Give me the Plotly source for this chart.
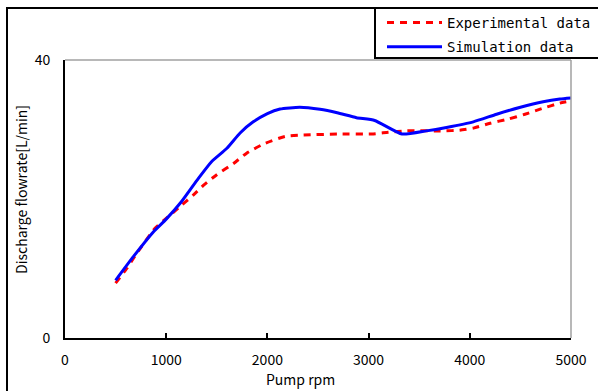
import plotly.graph_objects as go

# data
sim_rpm = [500, 675, 875, 1000, 1150, 1320, 1450, 1600, 1730, 1860, 2000, 2125, 2320, 2520, 2690,
           2880, 3060, 3330, 3570, 3770, 4035, 4265, 4500, 4725, 4890, 5000]
sim_flow = [8.3, 11.7, 15.3, 17.1, 19.6, 23.0, 25.4, 27.3, 29.5, 31.1, 32.3, 32.95, 33.2, 32.9, 32.4,
            31.7, 31.3, 29.35, 29.8, 30.3, 31.1, 32.2, 33.2, 34.0, 34.4, 34.55]

exp_rpm = [500, 610, 710, 890, 1000, 1135, 1270, 1370, 1500, 1665, 1795, 1975, 2175, 2355, 2700,
           3030, 3195, 3375, 3740, 3900, 4035, 4200, 4380, 4545, 4710, 4890, 5000]
exp_flow = [7.9, 10.0, 12.2, 15.8, 17.2, 18.9, 20.6, 22.0, 23.5, 25.1, 26.6, 28.0, 29.0, 29.2, 29.35,
            29.35, 29.6, 29.8, 29.8, 29.9, 30.2, 30.9, 31.5, 32.2, 33.0, 33.8, 34.1]

x_ticks = [0, 1000, 2000, 3000, 4000, 5000]
y_ticks = [0, 40]

FONT = "Noto Sans CJK JP"
LEG_FONT = "DejaVu Sans Mono"
W, H = 598, 391
L, R, T, B = 65, 27, 60, 53
PW, PH = W - L - R, H - T - B


def px(x):
    return (x - L) / PW


def py(y):
    return (H - B - y) / PH


fig = go.Figure()
fig.add_trace(go.Scatter(x=exp_rpm, y=exp_flow, mode="lines", name="Experimental data",
                         legendgroup="exp",
                         line=dict(color="#ff0000", width=3, dash="7px,6px",
                                   shape="spline", smoothing=0.5)))
fig.add_trace(go.Scatter(x=sim_rpm, y=sim_flow, mode="lines", name="Simulation data",
                         legendgroup="sim",
                         line=dict(color="#0000ff", width=3, shape="spline", smoothing=0.5)))

shapes = [
    # outer chart frame
    dict(type="rect", xref="paper", yref="paper", x0=px(7), x1=px(610), y0=py(400), y1=py(8),
         line=dict(color="black", width=2), layer="below"),
    # legend box
    dict(type="rect", xref="paper", yref="paper", x0=px(375), x1=px(610), y0=py(58), y1=py(8),
         line=dict(color="black", width=2), layer="below"),
    # gray top and right border of plot area
    dict(type="line", xref="paper", yref="paper", x0=0, x1=1, y0=1, y1=1,
         line=dict(color="#a0a0a0", width=1.5)),
    dict(type="line", xref="paper", yref="paper", x0=1, x1=1, y0=0, y1=1,
         line=dict(color="#a0a0a0", width=1.5)),
]

annotations = [
    dict(text="Pump rpm", xref="paper", yref="paper", x=px(300), y=py(379), showarrow=False,
         font=dict(family=FONT, size=14, color="black"), xanchor="center", yanchor="middle"),
    dict(text="Discharge flowrate[L/min]", xref="paper", yref="paper", x=px(21), y=py(190),
         showarrow=False, textangle=-90,
         font=dict(family=FONT, size=14, color="black"), xanchor="center", yanchor="middle"),
]

fig.update_layout(
    width=W, height=H,
    margin=dict(l=L, r=R, t=T, b=B, autoexpand=False),
    paper_bgcolor="white", plot_bgcolor="white",
    font=dict(family=FONT, size=14, color="black"),
    showlegend=True,
    legend=dict(x=px(382), y=py(7), xanchor="left", yanchor="top",
                bgcolor="rgba(0,0,0,0)", borderwidth=0, itemwidth=55,
                traceorder="grouped", tracegroupgap=3,
                font=dict(family=LEG_FONT, size=14, color="black")),
    shapes=shapes,
    annotations=annotations,
    xaxis=dict(range=[0, 5000], tickvals=x_ticks, ticktext=[str(v) for v in x_ticks],
               showgrid=False, zeroline=False, showline=True, linecolor="black", linewidth=2,
               ticks="inside", ticklen=5, tickwidth=1.5, tickcolor="black",
               ticklabelstandoff=8, tickfont=dict(family=FONT, size=14)),
    yaxis=dict(range=[0, 40], tickvals=y_ticks, ticktext=[str(v) for v in y_ticks],
               showgrid=False, zeroline=False, showline=True, linecolor="black", linewidth=2,
               ticks="inside", ticklen=5, tickwidth=1.5, tickcolor="black",
               ticklabelstandoff=10, tickfont=dict(family=FONT, size=14)),
)

fig.write_html("out.html", config={"displayModeBar": False},
               post_script="document.body.style.margin='0';")
